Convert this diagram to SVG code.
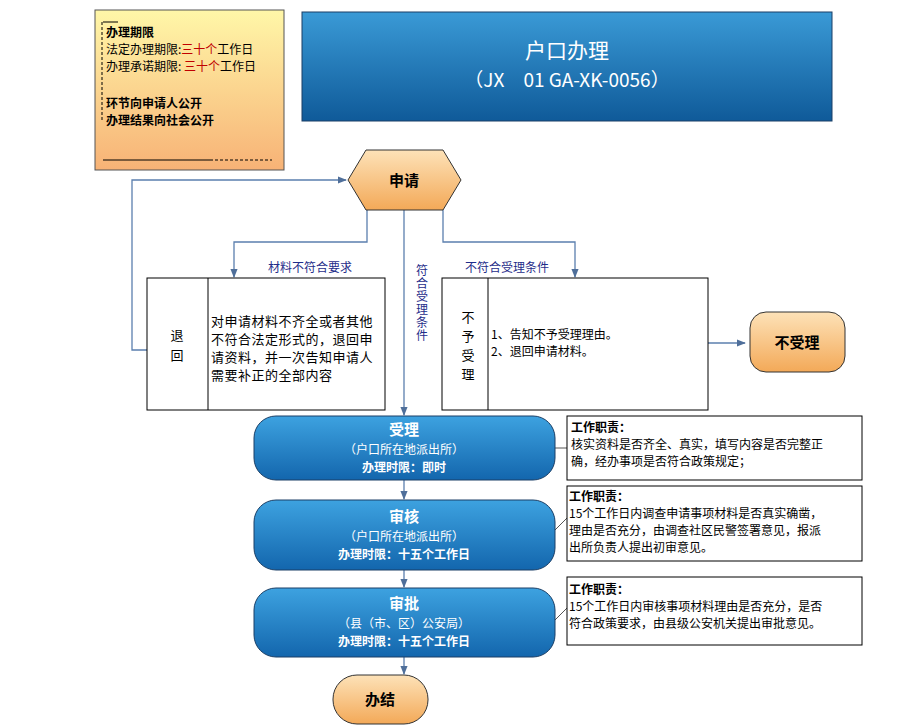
<svg xmlns="http://www.w3.org/2000/svg" width="919" height="727" viewBox="0 0 919 727">
<defs>
<linearGradient id="yo" x1="0" y1="0" x2="0" y2="1"><stop offset="0" stop-color="#fff7a8"/><stop offset="1" stop-color="#f7b276"/></linearGradient>
<linearGradient id="bl" x1="0" y1="0" x2="0" y2="1"><stop offset="0" stop-color="#3a9ad6"/><stop offset="1" stop-color="#0f5a99"/></linearGradient>
<linearGradient id="bb" x1="0" y1="0" x2="0" y2="1"><stop offset="0" stop-color="#3da2e0"/><stop offset="1" stop-color="#1366ad"/></linearGradient>
<linearGradient id="or" x1="0" y1="0" x2="0" y2="1"><stop offset="0" stop-color="#fde2b8"/><stop offset="1" stop-color="#f3a958"/></linearGradient>
<marker id="ar" viewBox="0 0 10 10" refX="9" refY="5" markerWidth="7" markerHeight="7" orient="auto"><path d="M0,1 L10,5 L0,9 z" fill="#4f6f9a"/></marker>
</defs>
<style>
text{font-family:"Noto Sans CJK SC","Noto Sans",sans-serif}
.c{fill:none;stroke:#5b7fae;stroke-width:1.3;marker-end:url(#ar)}
.bx{fill:#fff;stroke:#000;stroke-width:1}
.w{fill:#fff;text-anchor:middle}
.k{fill:#000}
.lb{fill:#1f2d8a;font-size:12px}
</style>
<rect width="919" height="727" fill="#fff"/>
<g id="info">
<rect x="95" y="10" width="189" height="160" fill="url(#yo)" stroke="#555"/>
<path d="M102,22 V120" stroke="#000" stroke-dasharray="3,2"/>
<path d="M103,22 H118 M103,160 H210" stroke="#000"/>
<path d="M210,160 H272" stroke="#000" stroke-dasharray="3,2"/>
<text x="106" y="37" font-size="12" font-weight="bold" class="k">办理期限</text>
<text x="106" y="54" font-size="12" class="k">法定办理期限:<tspan fill="#c00000">三十个</tspan>工作日</text>
<text x="106" y="71" font-size="12" class="k">办理承诺期限: <tspan fill="#c00000">三十个</tspan>工作日</text>
<text x="106" y="108" font-size="12" font-weight="bold" class="k">环节向申请人公开</text>
<text x="106" y="125" font-size="12" font-weight="bold" class="k">办理结果向社会公开</text>
</g>
<g id="title">
<rect x="302" y="12" width="530" height="109" fill="url(#bl)" stroke="#1b3f66"/>
<text x="567" y="58" font-size="21" class="w">户口办理</text>
<text x="567" y="87" font-size="19" class="w" font-family="Liberation Serif,serif">（JX　01 GA-XK-0056）</text>
</g>
<g id="connectors">
<path class="c" d="M147,350 H132 V180 H346"/>
<path class="c" d="M367,210 V242 H234 V277"/>
<path class="c" d="M443,210 V242 H575 V277"/>
<path class="c" d="M404,210 V415"/>
<path class="c" d="M708,343 H745"/>
<path class="c" d="M404,480 V499"/>
<path class="c" d="M404,570 V587"/>
<path class="c" d="M404,657 V674"/>
<path d="M555,448 H567 M555,530 L567,518 M555,620 L567,608" stroke="#555" fill="none"/>
<text x="310" y="272" class="lb" text-anchor="middle">材料不符合要求</text>
<text x="507" y="272" class="lb" text-anchor="middle">不符合受理条件</text>
<text x="422" y="264" class="lb" writing-mode="tb" letter-spacing="1">符合受理条件</text>
</g>
<g id="apply">
<polygon points="348,180 366,150 443,150 461,180 443,210 366,210" fill="url(#or)" stroke="#333"/>
<text x="404" y="186" font-size="15" font-weight="bold" text-anchor="middle" class="k">申请</text>
</g>
<g id="return">
<rect x="147" y="278" width="238" height="132" class="bx"/>
<path d="M208,278 V410" stroke="#000"/>
<text x="177" y="340" font-size="13" text-anchor="middle" class="k">退</text>
<text x="177" y="360" font-size="13" text-anchor="middle" class="k">回</text>
<text font-size="13" class="k" letter-spacing="0.5"><tspan x="211" y="326">对申请材料不齐全或者其他</tspan><tspan x="211" y="344">不符合法定形式的，退回申</tspan><tspan x="211" y="362">请资料，并一次告知申请人</tspan><tspan x="211" y="380">需要补正的全部内容</tspan></text>
</g>
<g id="reject">
<rect x="442" y="278" width="266" height="132" class="bx"/>
<path d="M488,278 V410" stroke="#000"/>
<text font-size="13" text-anchor="middle" class="k"><tspan x="468" y="322">不</tspan><tspan x="468" y="341">予</tspan><tspan x="468" y="360">受</tspan><tspan x="468" y="379">理</tspan></text>
<text font-size="12" class="k"><tspan x="491" y="339">1、告知不予受理理由。</tspan><tspan x="491" y="356">2、退回申请材料。</tspan></text>
</g>
<g id="notaccept">
<rect x="750" y="312" width="95" height="60" rx="16" fill="url(#or)" stroke="#333"/>
<text x="797" y="348" font-size="15" font-weight="bold" text-anchor="middle" class="k">不受理</text>
</g>
<g id="accept">
<rect x="254" y="416" width="301" height="64" rx="22" fill="url(#bb)" stroke="#1b3f66"/>
<text x="404" y="435" font-size="15" font-weight="bold" class="w">受理</text>
<text x="404" y="454" font-size="12" class="w">（户口所在地派出所）</text>
<text x="404" y="472" font-size="12" font-weight="bold" class="w">办理时限：即时</text>
</g>
<g id="review">
<rect x="254" y="500" width="301" height="70" rx="22" fill="url(#bb)" stroke="#1b3f66"/>
<text x="404" y="522" font-size="15" font-weight="bold" class="w">审核</text>
<text x="404" y="541" font-size="12" class="w">（户口所在地派出所）</text>
<text x="404" y="559" font-size="12" font-weight="bold" class="w">办理时限：十五个工作日</text>
</g>
<g id="approve">
<rect x="254" y="588" width="301" height="69" rx="22" fill="url(#bb)" stroke="#1b3f66"/>
<text x="404" y="609" font-size="15" font-weight="bold" class="w">审批</text>
<text x="404" y="628" font-size="12" class="w">（县（市、区）公安局）</text>
<text x="404" y="646" font-size="12" font-weight="bold" class="w">办理时限：十五个工作日</text>
</g>
<g id="finish">
<rect x="333" y="675" width="95" height="49" rx="24" fill="url(#or)" stroke="#333"/>
<text x="380" y="705" font-size="15" font-weight="bold" text-anchor="middle" class="k">办结</text>
</g>
<g id="d1">
<rect x="567" y="416" width="295" height="64" class="bx"/>
<text font-size="12" class="k"><tspan x="571" y="432" font-weight="bold">工作职责：</tspan><tspan x="571" y="449">核实资料是否齐全、真实，填写内容是否完整正</tspan><tspan x="571" y="466">确，经办事项是否符合政策规定；</tspan></text>
</g>
<g id="d2">
<rect x="567" y="486" width="295" height="75" class="bx"/>
<text font-size="12" class="k"><tspan x="569" y="501" font-weight="bold">工作职责：</tspan><tspan x="569" y="518">15个工作日内调查申请事项材料是否真实确凿，</tspan><tspan x="569" y="535">理由是否充分，由调查社区民警签署意见，报派</tspan><tspan x="569" y="552">出所负责人提出初审意见。</tspan></text>
</g>
<g id="d3">
<rect x="567" y="577" width="295" height="68" class="bx"/>
<text font-size="12" class="k"><tspan x="569" y="594" font-weight="bold">工作职责：</tspan><tspan x="569" y="611">15个工作日内审核事项材料理由是否充分，是否</tspan><tspan x="569" y="628">符合政策要求，由县级公安机关提出审批意见。</tspan></text>
</g>
</svg>
